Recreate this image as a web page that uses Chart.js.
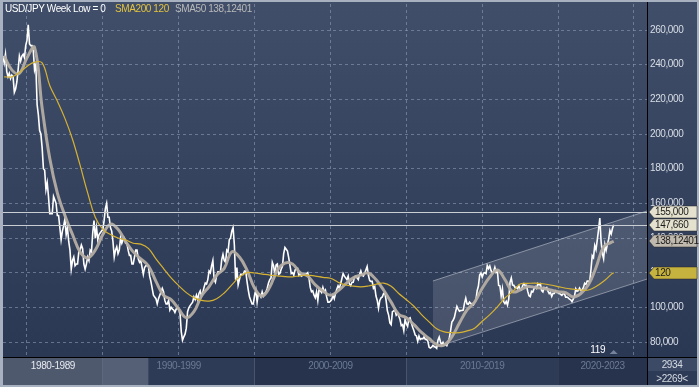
<!DOCTYPE html>
<html>
<head>
<meta charset="utf-8">
<script src="https://cdn.jsdelivr.net/npm/chart.js@4.4.0/dist/chart.umd.min.js"></script>
<style>
  html, body { margin: 0; padding: 0; background: #a8b1bf; }
  canvas { display: block; }
</style>
</head>
<body>
<canvas id="fxChart" width="699" height="387"></canvas>
<script>
// USD/JPY, one value per month, first value = June 1983
const priceStart = 1983 + 5 / 12;
const price = [
  245, 241, 246, 236, 233, 235, 232,
  234, 233, 224, 226, 230, 237, 245, 242, 245, 246, 244, 251,
  254, 263, 252, 251, 251, 248, 237, 240, 217, 211, 202, 200,
  192, 180, 179, 168, 172, 164, 154, 154, 154, 164, 162, 160,
  153, 153, 146, 139, 144, 147, 151, 142, 146, 138, 133, 122,
  127, 129, 124, 125, 125, 132, 133, 136, 134, 125, 122, 125,
  129, 127, 133, 132, 143, 150, 140, 146, 139, 142, 143, 144,
  145, 150, 157, 160, 152, 152, 146, 144, 138, 129, 133, 135,
  131, 133, 140, 137, 139, 140, 137, 137, 133, 130, 130, 125,
  125, 129, 133, 133, 128, 126, 127, 123, 119, 123, 124, 124,
  124, 118, 115, 111, 107, 106, 105, 102, 105, 107, 109, 111,
  109, 104, 102, 102, 104, 98.5, 100, 99, 98.5, 97, 99, 99.7,
  99, 97, 86, 81, 83, 84.5, 88, 97.5, 99.7, 101, 102, 103,
  106, 104.5, 107, 104.5, 108, 109.5, 106.5, 108.5, 111.5, 114, 113.5, 116,
  121, 120, 124, 127, 116, 114.5, 118.5, 120.5, 120.5, 120.5, 127.5, 130.5,
  127, 126, 133, 132, 139, 140, 144, 146, 136, 116, 123, 113,
  116, 119, 119, 119, 121, 121, 115, 110, 106, 104, 102, 102,
  107, 110, 103, 108, 107.5, 106, 109, 106.5, 108, 109, 111, 114,
  116, 117, 126, 124, 119, 124.5, 125, 119, 119.5, 122, 123.5, 131,
  134.5, 133.5, 132.5, 128.5, 124, 119.5, 120, 118.5, 121.5, 122.5, 122.5, 118.5,
  119.5, 118, 118.5, 119, 119, 119.5, 120, 117, 111.5, 109, 109.5, 107,
  105.5, 109, 104, 110.5, 109.5, 108.5, 111.5, 109, 110, 106, 103, 103,
  103.5, 104.5, 107, 105, 108, 110.5, 112.5, 111, 113.5, 116.5, 119.5, 118,
  117, 116, 118, 113.5, 112.5, 114.5, 114.5, 117.5, 118, 117, 116, 119,
  121, 118.5, 118, 119.5, 121.5, 123.5, 118.5, 115.5, 115, 115, 111, 112,
  106.5, 104, 99.5, 104, 105.5, 106, 108, 108.5, 104, 98, 95.5, 91,
  90, 97.5, 98, 98.5, 95.5, 96.5, 95, 93, 89.5, 90, 86.5, 93,
  90.5, 89, 93.5, 94, 91, 88.5, 86.5, 84, 83.5, 80.5, 83.5, 81.5,
  82, 81.8, 83, 81.5, 81.5, 80.5, 77, 76.5, 77, 78, 77.5, 77,
  76.3, 81, 82.8, 80, 78.3, 79.8, 78.1, 78.4, 77.9, 79.8, 82.5, 86.5,
  91.5, 92.5, 94.2, 97.5, 100.5, 99, 97.8, 98.2, 98.2, 98.4, 102.4, 105.3,
  102, 101.8, 103, 102.2, 101.8, 101.3, 102.8, 104, 109.6, 112.3, 118.6, 119.8,
  117.5, 119.6, 120, 119.5, 124.1, 122.4, 123.9, 121.2, 119.9, 120.6, 123.1, 120.2,
  121, 112.6, 112.4, 106.5, 110.7, 103.2, 102.1, 103.4, 101.3, 104.8, 114.4, 116.9,
  112.8, 112.7, 111.4, 111.5, 110.8, 112.4, 110.3, 110, 112.5, 113.6, 112.5, 112.7,
  109.2, 106.7, 106.2, 109.3, 108.8, 110.8, 111.9, 111, 113.7, 112.9, 113.5, 109.7,
  108.9, 111.4, 110.9, 111.4, 109.3, 107.9, 108.6, 106.3, 108.1, 108, 109.5, 108.6,
  108.4, 108.1, 107.5, 106.9, 107.8, 107.9, 105.9, 105.9, 105.5, 104.7, 104.3, 103.3,
  104.7, 106.6, 110.7, 109.3, 109.6, 111.1, 109.7, 110, 111.3, 113.9, 113.2, 115.1,
  115.1, 115, 121.7, 129.8, 128.7, 135.7, 133.3, 138.9, 144.7, 151.5, 138.1, 131.1,
  128, 136.2, 132.8, 136.3, 139.3, 144.3, 142.3, 145.5, 147.66
];

// moving averages every half year, from mid 1983
const smaStart = 1983.5;
const sma50 = [
  245, 237, 235, 244, 250, 215, 186, 166, 153, 142,
  132, 128.5, 133, 142, 148, 145, 138, 132, 128, 124,
  115, 107, 104.5, 99, 94, 97.5, 106.5, 112, 118.5, 122.5,
  132, 129, 121.5, 111, 106.5, 111.7, 121.5, 125.5, 125, 120,
  118, 113, 109.5, 107, 109.5, 113.5, 117, 118.6, 119.8, 116,
  110, 103, 96, 94, 90, 85.5, 82, 78.5, 78.3, 83,
  91, 98.5, 103, 111, 117.5, 121.5, 116, 109, 110, 112,
  111.5, 111, 110, 109, 108.5, 106, 108, 113, 123, 135,
  137.5
];
const sma200 = [
  233, 233, 235.5, 239, 241.5, 241, 228, 219, 209, 197,
  182, 166, 152, 145, 142, 140, 138.9, 137, 136.5, 134,
  128, 122.4, 117, 112.5, 108.5, 105.6, 104, 103.6, 105, 108.3,
  113, 117.5, 120, 119.8, 119.2, 118.6, 118.2, 117.7, 117.6, 118.2,
  118.6, 118, 117.3, 116.8, 114.5, 112.9, 112.2, 111.8, 112.3, 113.3,
  114, 112.2, 108, 104.4, 100.6, 95.8, 91.6, 87.6, 85.8, 85.4,
  85.4, 86.4, 88, 92, 95.8, 100.3, 105.4, 109, 113.5, 113.8,
  114, 113.6, 112.9, 112, 111, 110.5, 110, 110, 112, 115,
  119
];
const sma50Last = 138.12401;
const sma200Last = 120;

// trend channel (start and end of both edges)
const channelX = [2011.75, 2025.86];
const channelUpper = [115.2, 155.6];
const channelLower = [76.5, 116.3];

// horizontal lines and price tags on the right
const levelValues = [155, 147.66];
const tagValues = [155, 147.66, 138.12401, 120];
const tagLabels = ['155,000', '147,660', '138,12401', '120'];

// axes
const yTicks = [80, 100, 120, 140, 160, 180, 200, 220, 240, 260];
const xGrid = [1985, 1990, 1995, 2000, 2005, 2010, 2015, 2020, 2025];
const xMin = 1983.42, xMax = 2025.86, yMin = 71.35, yMax = 275;

// decade strip under the chart
const periodLabels = ['1980-1989', '1990-1999', '2000-2009', '2010-2019', '2020-2023'];
const periodStarts = [1980, 1990, 2000, 2010, 2020];
const periodEnds = [1990, 2000, 2010, 2020, 2030];
const thumbEnd = 1993;

const lastX = priceStart + (price.length - 1) / 12;
const pricePts = price.map((v, i) => ({ x: priceStart + i / 12, y: v }));
const sma50Pts = sma50.map((v, i) => ({ x: smaStart + i * 0.5, y: v }));
sma50Pts.push({ x: lastX, y: sma50Last });
const sma200Pts = sma200.map((v, i) => ({ x: smaStart + i * 0.5, y: v }));
sma200Pts.push({ x: lastX, y: sma200Last });

const FONT = '10px "Liberation Sans", Arial, sans-serif';

const decor = {
  id: 'decor',
  beforeDraw(chart) {
    const { ctx, chartArea: a, width, height } = chart;
    const xs = chart.scales.x;
    ctx.save();
    ctx.fillStyle = '#a8b1bf';
    ctx.fillRect(0, 0, width, height);
    const g = ctx.createLinearGradient(0, a.top, 0, a.bottom);
    g.addColorStop(0, '#404e69');
    g.addColorStop(1, '#2b3854');
    ctx.fillStyle = g;
    ctx.fillRect(a.left, 2, width - 2 - a.left, a.bottom - 2);
    // decade bands
    periodLabels.forEach((lab, i) => {
      const x0 = Math.max(a.left, xs.getPixelForValue(periodStarts[i]));
      const x1 = Math.min(a.right, xs.getPixelForValue(periodEnds[i]));
      ctx.fillStyle = i % 2 ? '#2e3b56' : '#27334d';
      ctx.fillRect(x0, a.bottom, x1 - x0, height - 2 - a.bottom);
    });
    ctx.fillStyle = 'rgba(255,255,255,0.19)';
    ctx.fillRect(a.left, a.bottom, xs.getPixelForValue(thumbEnd) - a.left, height - 2 - a.bottom);
    // box at bottom right
    ctx.fillStyle = '#3c4a66';
    ctx.fillRect(a.right, a.bottom, width - 2 - a.right, 14);
    ctx.fillStyle = '#2e3b56';
    ctx.fillRect(a.right, a.bottom + 14, width - 2 - a.right, height - 2 - a.bottom - 14);
    ctx.restore();
  },
  afterDatasetsDraw(chart) {
    const { ctx, chartArea: a } = chart;
    const ys = chart.scales.y;
    ctx.save();
    ctx.strokeStyle = '#c9cdd4';
    ctx.lineWidth = 1;
    levelValues.forEach(v => {
      const y = Math.round(ys.getPixelForValue(v)) + 0.5;
      ctx.beginPath();
      ctx.moveTo(a.left, y);
      ctx.lineTo(a.right, y);
      ctx.stroke();
    });
    ctx.restore();
  },
  afterDraw(chart) {
    const { ctx, chartArea: a, width, height } = chart;
    const xs = chart.scales.x, ys = chart.scales.y;
    ctx.save();
    ctx.font = FONT;
    ctx.letterSpacing = '-0.4px';
    ctx.textBaseline = 'middle';

    // axis lines
    ctx.fillStyle = '#000';
    ctx.fillRect(a.right, 2, 1, height - 4);
    ctx.fillRect(a.left, a.bottom, width - 2 - a.left, 1);

    // y tick labels
    ctx.fillStyle = '#d9dee6';
    ctx.textAlign = 'left';
    yTicks.forEach(v => {
      ctx.fillText(v.toFixed(3).replace('.', ','), a.right + 3, ys.getPixelForValue(v));
    });

    // price tags
    const tagFill = ['#e4e2cf', '#e4e2cf', '#bfb9ae', '#c6b23e'];
    tagValues.forEach((v, i) => {
      const y = Math.round(ys.getPixelForValue(v));
      const x0 = a.right + 2, x1 = width - 2;
      ctx.beginPath();
      ctx.moveTo(x0, y);
      ctx.lineTo(x0 + 5, y - 6);
      ctx.lineTo(x1, y - 6);
      ctx.lineTo(x1, y + 6);
      ctx.lineTo(x0 + 5, y + 6);
      ctx.closePath();
      ctx.fillStyle = tagFill[i];
      ctx.fill();
      ctx.strokeStyle = 'rgba(40,40,40,0.5)';
      ctx.lineWidth = 1;
      ctx.stroke();
      ctx.fillStyle = '#1c1c1c';
      ctx.fillText(tagLabels[i], x0 + 6, y + 0.5);
    });

    // legend
    ctx.fillStyle = '#ffffff';
    ctx.fillText('USD/JPY Week Low = 0', 5, 9);
    ctx.fillStyle = '#e2c23e';
    ctx.fillText('SMA200 ' + String(sma200Last).replace('.', ','), 115, 9);
    ctx.fillStyle = '#b9b9b9';
    ctx.fillText('SMA50 ' + String(sma50Last).replace('.', ','), 175, 9);

    // decade labels
    ctx.textAlign = 'center';
    periodLabels.forEach((lab, i) => {
      const x0 = Math.max(a.left, xs.getPixelForValue(periodStarts[i]));
      const x1 = Math.min(a.right, xs.getPixelForValue(periodEnds[i]));
      ctx.fillStyle = i === 0 ? '#e6eaf0' : '#6b7a93';
      ctx.fillText(lab, (x0 + x1) / 2, a.bottom + 9);
    });

    // counters bottom right
    ctx.fillStyle = '#d6dbe3';
    const cx = (a.right + width - 2) / 2;
    ctx.fillText('2934', cx, a.bottom + 8);
    ctx.fillText('>2269<', cx, a.bottom + 22);

    // bar counter inside the plot
    const lx = xs.getPixelForValue(lastX);
    ctx.fillStyle = '#ffffff';
    ctx.fillText('119', lx - 16, a.bottom - 7);
    ctx.fillStyle = '#76819a';
    ctx.beginPath();
    ctx.moveTo(lx - 4, a.bottom - 3);
    ctx.lineTo(lx, a.bottom - 7);
    ctx.lineTo(lx + 4, a.bottom - 3);
    ctx.closePath();
    ctx.fill();
    ctx.restore();
  }
};

new Chart(document.getElementById('fxChart'), {
  type: 'line',
  data: {
    datasets: [
      {
        label: 'SMA200',
        data: sma200Pts,
        borderColor: '#d6b232',
        borderWidth: 1.2,
        pointRadius: 0,
        tension: 0.4,
        fill: false
      },
      {
        label: 'SMA50',
        data: sma50Pts,
        borderColor: 'rgba(180,173,163,0.95)',
        borderWidth: 3,
        pointRadius: 0,
        tension: 0.4,
        fill: false
      },
      {
        label: 'USD/JPY',
        data: pricePts,
        borderColor: '#ffffff',
        borderWidth: 1.6,
        pointRadius: 0,
        tension: 0,
        fill: false
      },
      {
        label: 'channel low',
        data: channelX.map((x, i) => ({ x: x, y: channelLower[i] })),
        borderColor: 'rgba(200,205,215,0.55)',
        borderWidth: 1,
        pointRadius: 0,
        fill: '+1',
        backgroundColor: 'rgba(255,255,255,0.13)'
      },
      {
        label: 'channel high',
        data: channelX.map((x, i) => ({ x: x, y: channelUpper[i] })),
        borderColor: 'rgba(200,205,215,0.55)',
        borderWidth: 1,
        pointRadius: 0,
        fill: false
      }
    ]
  },
  options: {
    responsive: false,
    animation: false,
    events: [],
    layout: { padding: { left: 3, top: 4, right: 0, bottom: 30 } },
    plugins: { legend: { display: false }, tooltip: { enabled: false } },
    scales: {
      x: {
        type: 'linear',
        min: xMin,
        max: xMax,
        afterBuildTicks: s => { s.ticks = xGrid.map(v => ({ value: v })); },
        afterFit: s => { s.height = 0; },
        ticks: { display: false },
        grid: { color: 'rgba(140,155,182,0.6)', drawTicks: false },
        border: { display: false, dash: [3, 3] }
      },
      y: {
        position: 'right',
        min: yMin,
        max: yMax,
        afterBuildTicks: s => { s.ticks = yTicks.map(v => ({ value: v })); },
        afterFit: s => { s.width = 52; },
        ticks: { display: false },
        grid: { color: 'rgba(140,155,182,0.6)', drawTicks: false },
        border: { display: false, dash: [3, 3] }
      }
    }
  },
  plugins: [decor]
});
</script>
</body>
</html>
